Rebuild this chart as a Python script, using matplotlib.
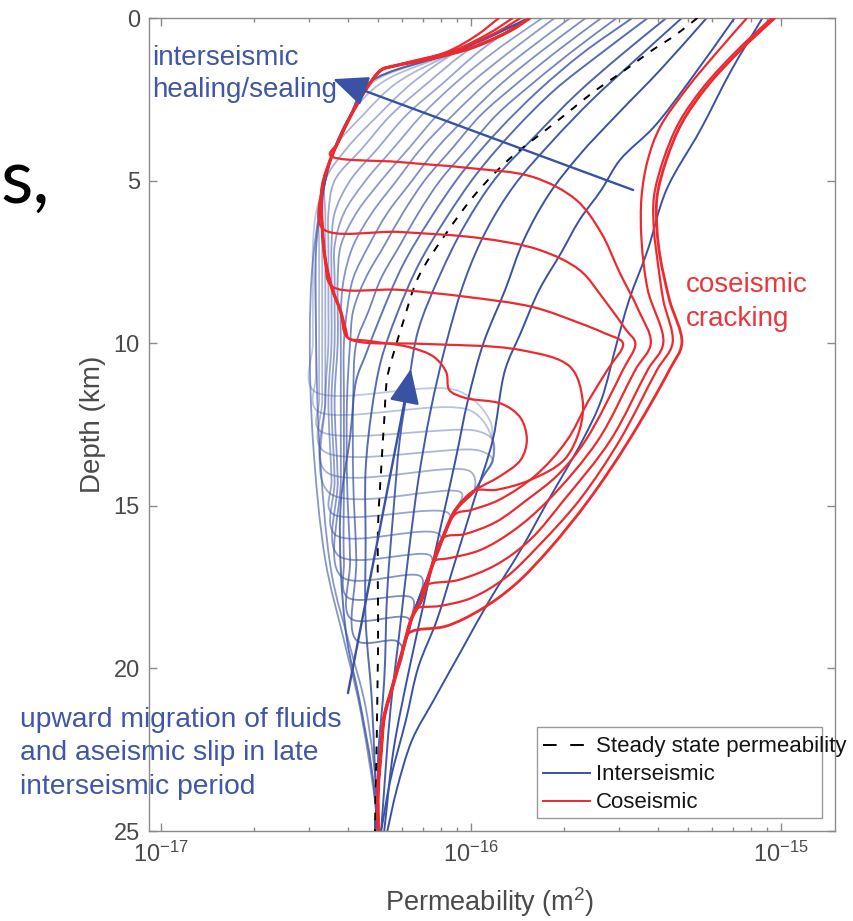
import numpy as np
import matplotlib
matplotlib.use('Agg')
import matplotlib.pyplot as plt
from matplotlib.path import Path
from matplotlib.patches import PathPatch, Rectangle
from matplotlib.lines import Line2D
from matplotlib.ticker import LogLocator, NullFormatter
from matplotlib.colors import to_rgba

plt.rcParams['font.family'] = ['Liberation Sans', 'DejaVu Sans']
plt.rcParams['mathtext.fontset'] = 'custom'
plt.rcParams['mathtext.rm'] = 'Liberation Sans'
plt.rcParams['mathtext.it'] = 'Liberation Sans:italic'
plt.rcParams['mathtext.default'] = 'regular'

BLUE = '#3a52a3'
RED = '#ec2a2f'
BLUE_TXT = '#4056a6'
RED_TXT = '#e8383e'
GREY = '#8a8a8a'
LABEL = '#4a4a4a'

# ---- data: depth in km, permeability as log10(k / m^2) ----

# steady state permeability
ss_depth = [0, 0.52, 1.02, 1.51, 2.31, 2.77, 3.38, 4.28, 5.35, 6.62, 7.97, 9.38, 10.0,
            11.05, 12.37, 13.90, 15.66, 19.45, 25.0]
ss_logk = [-15.27, -15.34, -15.42, -15.49, -15.61, -15.67, -15.75, -15.87, -15.98, -16.08,
           -16.17, -16.22, -16.24, -16.27, -16.28, -16.29, -16.30, -16.30, -16.31]

# early interseismic profiles (strong blue)
early_depth = [
    [0, 1.60, 3.44, 5.29, 7.13, 8.67, 10.0, 11.75, 12.98, 14.82, 16.36, 17.90, 19.43, 20.97, 22.20, 23.74, 25.0],
    [0, 2.0, 3.35, 4.37, 5.29, 6.21, 7.23, 8.36, 9.69, 10.82, 12.98, 14.82, 16.67, 18.51, 19.96, 21.59, 23.43, 25.0],
    [0, 1.60, 2.98, 4.21, 5.44, 6.83, 8.36, 10.0, 11.75, 13.59, 15.74, 17.90, 20.05, 22.51, 25.0],
    [0, 1.29, 2.52, 3.81, 5.14, 6.52, 8.06, 10.0, 12.05, 14.21, 16.36, 18.82, 21.28, 25.0],
    [0, 1.17, 2.34, 3.60, 4.92, 6.37, 7.90, 9.59, 11.13, 12.98, 15.13, 17.59, 20.36, 22.82, 25.0],
    [0, 1.08, 2.21, 3.44, 4.77, 6.15, 7.60, 9.13, 10.52, 12.05, 13.90, 16.05, 18.51, 20.97, 23.12, 25.0],
    [0, 1.08, 2.21, 3.44, 4.77, 6.15, 7.60, 9.13, 10.36, 11.13, 12.88, 14.91, 16.97, 19.13, 20.97, 23.12, 25.0],
]
early_logk = [
    [-15.06, -15.16, -15.26, -15.37, -15.43, -15.49, -15.53, -15.58, -15.64, -15.75, -15.84, -15.94, -16.03, -16.12, -16.19, -16.24, -16.27],
    [-15.15, -15.30, -15.41, -15.52, -15.58, -15.65, -15.71, -15.78, -15.84, -15.89, -15.93, -15.99, -16.05, -16.11, -16.17, -16.21, -16.26, -16.29],
    [-15.24, -15.39, -15.53, -15.65, -15.75, -15.83, -15.89, -15.96, -16.01, -16.05, -16.10, -16.15, -16.20, -16.25, -16.28],
    [-15.32, -15.47, -15.61, -15.74, -15.86, -15.95, -16.02, -16.08, -16.13, -16.17, -16.20, -16.23, -16.26, -16.29],
    [-15.37, -15.52, -15.66, -15.79, -15.92, -16.02, -16.10, -16.17, -16.20, -16.23, -16.25, -16.27, -16.28, -16.30, -16.30],
    [-15.43, -15.58, -15.73, -15.86, -15.98, -16.08, -16.17, -16.24, -16.29, -16.32, -16.34, -16.34, -16.34, -16.32, -16.31, -16.30],
    [-15.48, -15.64, -15.78, -15.91, -16.03, -16.13, -16.22, -16.29, -16.34, -16.37, -16.39, -16.42, -16.42, -16.40, -16.36, -16.32, -16.30],
]
early_alpha = [1.0, 1.0, 1.0, 0.95, 0.9, 0.85, 0.8]

# later interseismic profiles: healed above a front, fluid-rich below it
heal_grid = [0, 1, 2, 3, 4, 5, 6, 7, 8, 9, 10]
heal_logk = [
    [-15.53, -15.67, -15.80, -15.92, -16.01, -16.10, -16.17, -16.23, -16.29, -16.33, -16.37],
    [-15.58, -15.72, -15.85, -15.97, -16.06, -16.15, -16.22, -16.28, -16.34, -16.38, -16.39],
    [-15.63, -15.77, -15.90, -16.01, -16.11, -16.19, -16.27, -16.33, -16.38, -16.40, -16.41],
    [-15.68, -15.82, -15.95, -16.06, -16.16, -16.24, -16.32, -16.38, -16.41, -16.42, -16.42],
    [-15.73, -15.87, -16.00, -16.11, -16.20, -16.29, -16.37, -16.42, -16.43, -16.43, -16.43],
    [-15.77, -15.92, -16.05, -16.16, -16.25, -16.34, -16.41, -16.44, -16.44, -16.44, -16.44],
    [-15.82, -15.97, -16.09, -16.21, -16.30, -16.39, -16.44, -16.45, -16.45, -16.45, -16.45],
    [-15.82, -16.01, -16.14, -16.26, -16.35, -16.44, -16.46, -16.46, -16.46, -16.46, -16.46],
    [-15.81, -16.04, -16.19, -16.30, -16.40, -16.47, -16.47, -16.47, -16.47, -16.47, -16.47],
    [-15.81, -16.04, -16.24, -16.35, -16.44, -16.47, -16.48, -16.48, -16.48, -16.48, -16.48],
    [-15.81, -16.04, -16.29, -16.39, -16.44, -16.47, -16.49, -16.49, -16.49, -16.49, -16.49],
    [-15.81, -16.04, -16.32, -16.39, -16.44, -16.47, -16.49, -16.50, -16.50, -16.50, -16.50],
    [-15.81, -16.04, -16.33, -16.39, -16.44, -16.47, -16.50, -16.51, -16.51, -16.51, -16.51],
]
heal_tail_depth = [
    [11.75, 14.21, 16.67, 19.13, 19.16],
    [11.75, 14.21, 16.67, 18.45, 18.48],
    [11.75, 14.21, 16.67, 17.80, 17.84],
    [11.75, 14.21, 17.16, 17.19],
    [11.75, 14.21, 16.51, 16.54],
    [11.75, 14.21, 15.87, 15.90],
    [11.75, 14.21, 15.22, 15.25],
    [11.75, 14.58, 14.61],
    [11.75, 13.93, 13.96],
    [11.75, 13.28, 13.31],
    [11.75, 12.67, 12.70],
    [11.0, 12.05, 12.08],
    [11.44, 11.47],
]
heal_tail_logk = [
    [-16.38, -16.38, -16.37, -16.37, -16.24],
    [-16.40, -16.40, -16.39, -16.39, -16.20],
    [-16.41, -16.41, -16.41, -16.40, -16.19],
    [-16.42, -16.42, -16.42, -16.16],
    [-16.44, -16.43, -16.43, -16.13],
    [-16.45, -16.44, -16.44, -16.10],
    [-16.46, -16.45, -16.45, -16.07],
    [-16.47, -16.46, -16.03],
    [-16.47, -16.47, -16.00],
    [-16.48, -16.48, -15.97],
    [-16.49, -16.49, -15.98],
    [-16.50, -16.50, -16.00],
    [-16.51, -16.04],
]
heal_join = [19.4, 18.9, 18.2, 17.5, 16.8, 16.2, 15.5, 14.9, 14.3, 13.5, 12.9, 12.5, 11.8]

# boundary the fronts run into below them
front_depth = [11.29, 11.75, 12.36, 12.98, 13.59, 14.08, 14.54, 15.13, 15.96, 16.97, 17.90,
               18.42, 19.43, 20.45, 21.49, 22.51, 23.74, 25.0]
front_logk = [-16.01, -15.97, -15.94, -15.93, -15.93, -15.96, -15.99, -16.05, -16.09, -16.13,
              -16.17, -16.19, -16.22, -16.25, -16.28, -16.29, -16.30, -16.31]

# healed profiles without a front
deep_depth = [
    [0, 1, 2, 3, 4, 5, 7.13, 9.59, 12.98, 17.07, 19.34, 21.19, 24.26, 25.0],
    [0, 1, 2, 3, 4, 5, 7.44, 9.90, 12.98, 16.67, 19.13, 21.13, 24.05, 25.0],
]
deep_logk = [
    [-15.81, -16.04, -16.33, -16.39, -16.44, -16.47, -16.50, -16.50, -16.49, -16.45, -16.39, -16.34, -16.30, -16.30],
    [-15.81, -16.04, -16.33, -16.39, -16.44, -16.47, -16.51, -16.52, -16.51, -16.47, -16.41, -16.36, -16.31, -16.30],
]

# coseismic envelopes shared by several profiles
env_up_depth = [0.00, 0.37, 0.89, 1.23, 1.48, 1.60, 2.21, 3.04, 3.84, 4.27, 5.20, 6.43, 7.44, 8.27, 9.04, 9.81]
env_up_logk = [-15.81, -15.87, -15.99, -16.12, -16.25, -16.29, -16.34, -16.39, -16.43, -16.45, -16.48,
               -16.48, -16.47, -16.45, -16.42, -16.40]
env_low_depth = [14.54, 15.13, 15.96, 16.97, 17.90, 18.42, 19.43, 20.45, 21.49, 22.51, 23.74, 25.0]
env_low_logk = [-15.99, -16.05, -16.09, -16.13, -16.16, -16.19, -16.22, -16.25, -16.28, -16.29, -16.30, -16.30]

# coseismic profiles: own top, span of upper envelope used, own middle, start of lower envelope
cos_head_depth = [[0, 0.40, 0.92, 1.29], [0, 0.46, 0.98, 1.32], [0, 0.52, 1.05, 1.35], [], [], [], [], []]
cos_head_logk = [[-15.84, -15.91, -16.03, -16.16], [-15.865, -15.94, -16.05, -16.18],
                 [-15.91, -15.98, -16.08, -16.20], [], [], [], [], []]
cos_env = [(1.4, 4.0), (1.4, 6.0), (1.4, 7.5), (-1, 9.9), (-1, 9.9), (0, 0), (0, 0), (0, 0)]
cos_mid_depth = [
    [4.21, 4.43, 4.61, 4.89, 5.60, 6.61, 7.84, 8.98, 10.0, 10.82, 12.98, 14.82, 15.74, 16.36, 16.61, 16.70],
    [6.46, 6.58, 6.77, 7.13, 7.75, 8.67, 9.59, 10.0, 10.82, 12.98, 14.05, 14.82, 15.50, 15.87, 15.99],
    [8.24, 8.36, 8.58, 8.89, 9.38, 9.69, 10.0, 10.82, 11.75, 12.98, 14.05, 14.82, 15.13, 15.25],
    [9.96, 10.02, 10.21, 10.73, 11.75, 12.67, 13.59, 14.21, 14.51],
    [9.93, 10.12, 10.42, 10.89, 11.44, 11.68, 11.87, 12.30, 12.98, 13.59, 14.11, 14.42],
    [0, 0.98, 2.12, 3.35, 4.37, 5.50, 6.83, 8.36, 10.0, 10.82, 12.98, 14.82, 16.05, 16.82, 17.28, 17.47],
    [0, 0.98, 2.12, 3.23, 4.37, 5.50, 6.52, 7.35, 8.67, 10.0, 10.82, 12.98, 14.82, 16.21, 17.22, 17.84, 18.08, 18.17],
    [0, 0.98, 2.12, 3.23, 4.37, 5.50, 6.52, 7.35, 8.67, 10.0, 10.82, 12.98, 14.82, 16.36, 17.44, 18.20, 18.70, 18.91],
]
cos_mid_logk = [
    [-16.455, -16.23, -16.01, -15.80, -15.66, -15.58, -15.52, -15.46, -15.42, -15.47, -15.59, -15.75, -15.86, -15.97, -16.07, -16.12],
    [-16.48, -16.23, -15.97, -15.78, -15.65, -15.57, -15.50, -15.47, -15.51, -15.63, -15.72, -15.82, -15.92, -16.02, -16.09],
    [-16.45, -16.23, -16.01, -15.80, -15.65, -15.57, -15.51, -15.56, -15.62, -15.69, -15.79, -15.91, -16.00, -16.05],
    [-16.36, -16.16, -15.84, -15.68, -15.64, -15.65, -15.70, -15.81, -15.92],
    [-16.33, -16.20, -16.12, -16.08, -16.07, -16.02, -15.90, -15.84, -15.82, -15.84, -15.91, -15.97],
    [-15.11, -15.20, -15.30, -15.39, -15.43, -15.45, -15.45, -15.43, -15.38, -15.43, -15.55, -15.70, -15.81, -15.92, -16.04, -16.15],
    [-15.03, -15.14, -15.25, -15.33, -15.38, -15.41, -15.41, -15.40, -15.38, -15.35, -15.40, -15.52, -15.65, -15.78, -15.89, -16.00, -16.10, -16.18],
    [-15.02, -15.13, -15.24, -15.32, -15.37, -15.40, -15.40, -15.39, -15.36, -15.32, -15.36, -15.49, -15.62, -15.75, -15.86, -15.97, -16.08, -16.20],
]
cos_join = [16.8, 16.3, 15.5, 14.52, 14.43, 17.6, 18.3, 19.0]

# annotation arrows: (log10 k, depth) of tail and head
heal_arrow = [(-15.477, 5.29), (-16.445, 1.88)]
rise_arrow = [(-16.397, 20.76), (-16.194, 10.79)]


def smooth_path(depth, logk):
    # centripetal Catmull-Rom through the points, given to matplotlib as cubic
    # Bezier pieces; spacing measured roughly as it appears on screen
    p = np.column_stack([np.asarray(logk, float) * 310.0, np.asarray(depth, float) * 32.5])
    n = len(p)
    verts = [p[0]]
    for i in range(n - 1):
        p0 = p[i - 1] if i > 0 else 2 * p[0] - p[1]
        p1, p2 = p[i], p[i + 1]
        p3 = p[i + 2] if i + 2 < n else 2 * p[-1] - p[-2]
        d1, d2, d3 = [max(np.sqrt(np.hypot(*(b - a))), 1e-6)
                      for a, b in ((p0, p1), (p1, p2), (p2, p3))]
        c1 = (d1**2 * p2 - d2**2 * p0 + (2 * d1**2 + 3 * d1 * d2 + d2**2) * p1) / (3 * d1 * (d1 + d2))
        c2 = (d3**2 * p1 - d2**2 * p3 + (2 * d3**2 + 3 * d3 * d2 + d2**2) * p2) / (3 * d3 * (d3 + d2))
        verts += [c1, c2, p2]
    verts = np.array(verts)
    codes = [Path.MOVETO] + [Path.CURVE4] * (len(verts) - 1)
    xy = np.column_stack([10 ** (verts[:, 0] / 310.0), verts[:, 1] / 32.5])
    return Path(xy, codes)


def pick(depth, logk, lo, hi):
    d = np.asarray(depth)
    k = np.asarray(logk)
    m = (d > lo) & (d < hi)
    return list(d[m]), list(k[m])


W, H = 854.0, 921.0


def at(px, py):
    return px / W, 1 - py / H


fig = plt.figure(figsize=(8.54, 9.21), dpi=100)
ax = fig.add_axes([149 / W, 1 - 831 / H, 686 / W, 813 / H])
ax.set_xscale('log')


def draw(depth, logk, color, lw, alpha=1.0, z=2, ls='-'):
    ax.add_patch(PathPatch(smooth_path(depth, logk), facecolor='none',
                           edgecolor=to_rgba(color, alpha), lw=lw, ls=ls,
                           zorder=z, capstyle='butt', joinstyle='round'))


# healed profiles
heal_alpha = np.linspace(0.72, 0.32, len(heal_logk))
for i in range(len(heal_logk)):
    bd, bk = pick(front_depth, front_logk, heal_join[i], 99)
    d = heal_grid + heal_tail_depth[i] + bd
    k = heal_logk[i] + heal_tail_logk[i] + bk
    draw(d, k, BLUE, 1.3, heal_alpha[i], z=1)
for d, k in zip(deep_depth, deep_logk):
    draw(d, k, BLUE, 1.3, 0.6, z=1.2)

for d, k, a in zip(early_depth, early_logk, early_alpha):
    draw(d, k, BLUE, 1.4, a, z=2)

draw(ss_depth, ss_logk, 'black', 1.4, z=3, ls=(0, (4, 4.5)))

for i in range(len(cos_mid_depth)):
    ed, ek = pick(env_up_depth, env_up_logk, *cos_env[i])
    ld, lk = pick(env_low_depth, env_low_logk, cos_join[i], 99)
    d = cos_head_depth[i] + ed + cos_mid_depth[i] + ld
    k = cos_head_logk[i] + ek + cos_mid_logk[i] + lk
    draw(d, k, RED, 1.6 if i < 7 else 2.0, z=4)
draw(env_up_depth, env_up_logk, RED, 2.4, z=4.1)
draw(env_low_depth, env_low_logk, RED, 2.6, z=4.1)

for (tk, td), (hk, hd) in (heal_arrow, rise_arrow):
    ax.annotate('', xy=(10 ** hk, hd), xytext=(10 ** tk, td),
                arrowprops=dict(arrowstyle='-|>,head_length=1.08,head_width=0.47',
                                mutation_scale=20, color=BLUE, lw=1.7,
                                shrinkA=0, shrinkB=0), zorder=5)

ax.set_xlim(10 ** -17.0387, 10 ** -14.826)
ax.set_ylim(25, 0)
ax.set_xticks([1e-17, 1e-16, 1e-15])
ax.set_xticklabels([r'$10^{-17}$', r'$10^{-16}$', r'$10^{-15}$'])
ax.xaxis.set_minor_locator(LogLocator(base=10, subs=np.arange(2, 10) * 1.0, numticks=30))
ax.xaxis.set_minor_formatter(NullFormatter())
ax.set_yticks([0, 5, 10, 15, 20, 25])
ax.tick_params(which='both', direction='in', top=True, right=True, colors=GREY,
               labelcolor=LABEL, width=1.0)
ax.tick_params(which='major', length=5.5)
ax.tick_params(which='minor', length=3.2)
ax.tick_params(axis='x', labelsize=17, pad=7.5)
ax.tick_params(axis='y', labelsize=17, pad=6.5)
for s in ax.spines.values():
    s.set_color(GREY)
    s.set_linewidth(1.0)

ax.set_xlabel('Permeability (m$^2$)', fontsize=19.5, color=LABEL)
ax.set_ylabel('Depth (km)', fontsize=20, color=LABEL)
ax.xaxis.set_label_coords(0.497, -0.067)
ax.yaxis.set_label_coords(-0.062, 0.5)

# annotations
fig.text(*at(152, 65), 'interseismic', color=BLUE_TXT, fontsize=20, va='baseline')
fig.text(*at(152, 97), 'healing/sealing', color=BLUE_TXT, fontsize=20, va='baseline')
fig.text(*at(686, 292), 'coseismic', color=RED_TXT, fontsize=20, va='baseline')
fig.text(*at(686, 326), 'cracking', color=RED_TXT, fontsize=20, va='baseline')
fig.text(*at(20, 727), 'upward migration of fluids', color=BLUE_TXT, fontsize=20.3, va='baseline')
fig.text(*at(20, 760), 'and aseismic slip in late', color=BLUE_TXT, fontsize=20.3, va='baseline')
fig.text(*at(20, 794), 'interseismic period', color=BLUE_TXT, fontsize=20.3, va='baseline')
fig.text(*at(1, 203), 's,', color='black', fontsize=54, family='Lato', va='baseline')

# legend box
x0, y0 = at(537, 818)
fig.add_artist(Rectangle((x0, y0), 285 / W, 91 / H, transform=fig.transFigure,
                         facecolor='white', edgecolor='#9a9a9a', lw=1.0, zorder=5))
for py, col, ls, txt in ((745, 'black', (0, (7, 7)), 'Steady state permeability'),
                         (773, BLUE, '-', 'Interseismic'),
                         (801, RED, '-', 'Coseismic')):
    fig.add_artist(Line2D([543 / W, 590 / W], [1 - py / H] * 2, transform=fig.transFigure,
                          color=col, lw=1.4, ls=ls, zorder=6))
    fig.text(*at(596, py + 7), txt, fontsize=16, color='#151515', va='baseline', zorder=6)

fig.savefig('out.png', dpi=100)
